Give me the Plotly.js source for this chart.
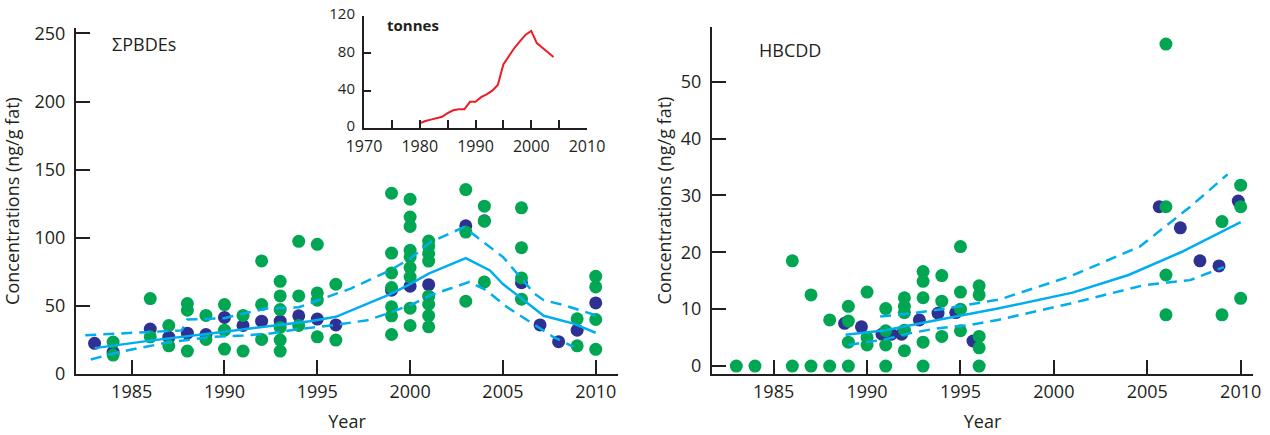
<!DOCTYPE html>
<html>
<head>
<meta charset="utf-8">
<script src="https://cdn.plot.ly/plotly-3.0.1.min.js"></script>
<style>html,body{margin:0;padding:0;background:#fff;}#chart{width:1270px;height:435px;}</style>
</head>
<body>
<div id="chart"></div>
<script>
// ---- ΣPBDEs: annual means (navy) ----
const pbdeMeanYears  = [1983, 1984, 1986, 1987, 1988, 1989, 1990, 1991, 1992, 1993, 1994, 1995, 1996, 1999, 2000, 2001, 2003, 2004, 2006, 2007, 2008, 2009, 2010];
const pbdeMeanValues = [22.5, 16, 33, 27, 30, 29, 41.5, 35.6, 38.8, 38.8, 42.7, 40.3, 36, 61.5, 64.4, 65.6, 108.8, 112.5, 67, 36, 23.7, 32.2, 52.2];
// ---- ΣPBDEs: individual samples (green) ----
const pbdeSampleYears  = [1984,1984, 1986,1986, 1987,1987, 1988,1988,1988, 1989,1989, 1990,1990,1990, 1991,1991, 1992,1992,1992,
  1993,1993,1993,1993,1993,1993, 1994,1994,1994, 1995,1995,1995,1995, 1996,1996,
  1999,1999,1999,1999,1999,1999,1999, 2000,2000,2000,2000,2000,2000,2000,2000,2000,
  2001,2001,2001,2001,2001,2001,2001,2001, 2003,2003,2003, 2004,2004,2004, 2006,2006,2006,2006, 2009,2009, 2010,2010,2010,2010];
const pbdeSampleValues = [23.4,13.9, 55.4,27.3, 35.6,20.7, 51.7,46.8,16.8, 43,25.4, 51,32.2,18.3, 43,16.8, 83,51,25.4,
  68,57.3,47.3,34.2,24.9,16.8, 97.4,57.3,35.6, 95.2,59.5,54.2,27.3, 65.9,24.9,
  132.7,88.8,74.2,63.5,49.3,42.7,29, 128.3,115.2,108.3,90.8,85.9,78.1,71.2,48.3,35.6,
  97.6,93.7,88.3,82.9,57.1,51.2,42.9,34.6, 135.4,104.2,53.4, 123.2,112.2,67.6, 122,92.7,70.5,54.9, 40.5,20.7, 71.7,63.9,40,18.1];
// ---- ΣPBDEs: smoothed trend and confidence band ----
const pbdeTrendYears  = [1983, 1986, 1990, 1994.6, 1996, 1999, 2000, 2001, 2003, 2004.3, 2005, 2007.2, 2008.8, 2010];
const pbdeTrendValues = [19, 24.5, 31, 38.8, 42, 59, 66, 73.7, 85, 76, 66, 42.7, 37, 30.3];
const pbdeUpperYears  = [1982.5, 1985, 1987.7, 1988, 1990, 1991.2, 1992.3, 1994, 1995.3, 1996.8, 1998.9, 2000, 2001.1, 2002.9, 2003.6, 2005, 2006.7, 2007.2, 2008.3, 2010.1];
const pbdeUpperValues = [28.5, 30, 32, 40, 41, 45, 48, 49, 55.4, 62.7, 76, 84.7, 96.8, 107.8, 100.5, 85.9, 59, 54.2, 50.5, 42.7];
const pbdeLowerYears  = [1982.8, 1984, 1985.3, 1986.9, 1988, 1989.4, 1991, 1992.5, 1994, 1995.9, 1997.7, 1998.9, 2000.2, 2001.1, 2003.2, 2004.1, 2005.2, 2006.7, 2007.7, 2008.8];
const pbdeLowerValues = [10.7, 15, 18.8, 23, 25, 27.3, 28.3, 29.8, 33, 35.9, 39.5, 44.9, 51.7, 57.8, 67.6, 61.5, 49.3, 35.9, 27.3, 20];
// ---- inset: PBDE usage (tonnes) ----
const tonnesYears  = [1980,1981,1982,1983,1984,1985,1986,1987,1988,1989,1990,1991,1992,1993,1994,1995,1996,1997,1998,1999,2000,2001,2002,2003,2004];
const tonnesValues = [5,7.5,9,10.5,12,16,19,20,20,28,28,33,36,40,46,68,77,86,93,100,104,91,86,81,76];
// ---- HBCDD: annual means (navy) ----
const hbcddMeanYears  = [1988.8, 1989.7, 1990.8, 1991.3, 1991.85, 1992.8, 1993.8, 1994.75, 1995.67, 2005.64, 2006.77, 2007.82, 2008.84, 2009.87];
const hbcddMeanValues = [7.5, 6.9, 5.6, 5.6, 5.6, 8.1, 9.3, 9.4, 4.4, 28, 24.3, 18.5, 17.6, 29];
// ---- HBCDD: individual samples (green) ----
const hbcddSampleYears  = [1983, 1984, 1986,1986, 1987,1987, 1988,1988, 1989,1989,1989,1989, 1990,1990,1990, 1991,1991,1991,1991,
  1992,1992,1992,1992,1992, 1993,1993,1993,1993,1993, 1994,1994,1994, 1995,1995,1995,1995, 1996,1996,1996,1996,1996,
  2006,2006,2006,2006, 2009,2009, 2010,2010,2010];
const hbcddSampleValues = [0, 0, 18.5,0, 12.5,0, 8.1,0, 10.5,7.9,4.2,0, 13,5.0,3.7, 10.1,6.2,3.7,0,
  12,10.5,9.4,6.3,2.7, 16.6,14.9,12,4.2,0, 15.9,11.4,5.2, 21,13,10,6.2, 14.1,12.5,5.2,3.2,0,
  56.6,28,16,9, 25.4,9, 31.8,28,11.9];
// ---- HBCDD: trend and band ----
const hbcddTrendYears  = [1988.85, 1991, 1993, 1995, 1997, 2001, 2004, 2006.8, 2010];
const hbcddTrendValues = [5.5, 6.3, 7.6, 8.8, 10.1, 12.9, 16, 20, 25.3];
const hbcddUpperYears  = [1990.7, 1992.5, 1994, 1995.5, 1997.1, 2000.9, 2004.6, 2007.3, 2009.3];
const hbcddUpperValues = [8.7, 9.3, 10, 10.8, 11.7, 15.8, 21, 28, 33.7];
const hbcddLowerYears  = [1989, 1991, 1992.2, 1993.7, 1995.5, 1997, 2000.9, 2004.8, 2005.9, 2007.3, 2009.1];
const hbcddLowerValues = [3.7, 4.7, 5.7, 6.6, 7.2, 8.1, 11, 14.2, 14.6, 15.1, 17.4];

const GREEN = '#00a651', NAVY = '#2e3192', CYAN = '#00aeef', RED = '#ed1c24', INK = '#231f20';
const MS = 13;
const dashed = '11px,7px';

function dots(x, y, color, xa, ya) {
  return {x, y, xaxis: xa, yaxis: ya, type: 'scatter', mode: 'markers', cliponaxis: false,
    marker: {color, size: MS, line: {width: 0}}, hoverinfo: 'skip'};
}
function line(x, y, dash, xa, ya, color, w) {
  return {x, y, xaxis: xa, yaxis: ya, type: 'scatter', mode: 'lines', cliponaxis: false,
    line: {color: color || CYAN, width: w || 2.5, dash: dash || 'solid'}, hoverinfo: 'skip'};
}

const traces = [
  dots(pbdeMeanYears, pbdeMeanValues, NAVY, 'x', 'y'),
  dots(pbdeSampleYears, pbdeSampleValues, GREEN, 'x', 'y'),
  line(pbdeTrendYears, pbdeTrendValues, 'solid', 'x', 'y'),
  line(pbdeUpperYears, pbdeUpperValues, dashed, 'x', 'y'),
  line(pbdeLowerYears, pbdeLowerValues, dashed, 'x', 'y'),
  dots(hbcddMeanYears, hbcddMeanValues, NAVY, 'x2', 'y2'),
  dots(hbcddSampleYears, hbcddSampleValues, GREEN, 'x2', 'y2'),
  line(hbcddTrendYears, hbcddTrendValues, 'solid', 'x2', 'y2'),
  line(hbcddUpperYears, hbcddUpperValues, dashed, 'x2', 'y2'),
  line(hbcddLowerYears, hbcddLowerValues, dashed, 'x2', 'y2'),
  line(tonnesYears, tonnesValues, 'solid', 'x3', 'y3', RED, 2)
];

const W = 1270, H = 435;
const FONT = 'Open Sans, sans-serif';
const axisBase = {showline: true, linecolor: INK, linewidth: 2, ticks: 'inside', ticklen: 14, tickwidth: 2,
  tickcolor: INK, showgrid: false, zeroline: false, tickfont: {size: 18, color: INK}, fixedrange: true};
const px = v => v / W, py = v => 1 - v / H;

const layout = {
  width: W, height: H, margin: {l: 0, r: 0, t: 0, b: 0},
  paper_bgcolor: '#fff', plot_bgcolor: 'rgba(0,0,0,0)', showlegend: false,
  font: {family: FONT, color: INK},
  xaxis: Object.assign({}, axisBase, {domain: [px(76), px(618)], range: [1982, 2011.2], tickvals: [1985, 1990, 1995, 2000, 2005, 2010],
    anchor: 'y', title: {text: 'Year', font: {size: 18}, standoff: 14}}),
  yaxis: Object.assign({}, axisBase, {domain: [py(374), py(28)], range: [0, 254], tickvals: [0, 50, 100, 150, 200, 250],
    anchor: 'x', ticklabelstandoff: 5, title: {text: 'Concentrations (ng/g fat)', font: {size: 18}, standoff: 10}}),
  xaxis2: Object.assign({}, axisBase, {domain: [px(712), px(1253)], range: [1981.7, 2010.66], tickvals: [1985, 1990, 1995, 2000, 2005, 2010],
    anchor: 'y2', title: {text: 'Year', font: {size: 18}, standoff: 14}}),
  yaxis2: Object.assign({}, axisBase, {domain: [py(374), py(27)], range: [-1.4, 59.6], tickvals: [0, 10, 20, 30, 40, 50],
    anchor: 'x2', ticklabelstandoff: 5, title: {text: 'Concentrations (ng/g fat)', font: {size: 18}, standoff: 5}}),
  xaxis3: Object.assign({}, axisBase, {domain: [px(364), px(587)], range: [1970, 2010], tickvals: [1970, 1980, 1990, 2000, 2010],
    anchor: 'y3', ticklen: 8, tickfont: {size: 16, color: INK}, ticklabelstandoff: 3,
    minor: {tickvals: [1975, 1985, 1995, 2005], ticks: 'inside', ticklen: 8, tickwidth: 2, tickcolor: INK}}),
  yaxis3: Object.assign({}, axisBase, {domain: [py(128), py(16)], range: [0, 120], tickvals: [0, 40, 80, 120],
    anchor: 'x3', ticklen: 7, tickfont: {size: 15, color: INK}, ticklabelstandoff: 4, ticklabelshift: -2}),
  annotations: [
    {text: 'ΣPBDEs', xref: 'paper', yref: 'paper', x: px(110), y: py(44), xanchor: 'left', yanchor: 'middle',
      showarrow: false, font: {size: 18, color: INK}},
    {text: 'HBCDD', xref: 'paper', yref: 'paper', x: px(757), y: py(50), xanchor: 'left', yanchor: 'middle',
      showarrow: false, font: {size: 18, color: INK}},
    {text: '<b>tonnes</b>', xref: 'paper', yref: 'paper', x: px(385), y: py(25), xanchor: 'left', yanchor: 'middle',
      showarrow: false, font: {size: 15, color: INK}}
  ]
};

Plotly.newPlot('chart', traces, layout, {staticPlot: true, displayModeBar: false});
</script>
</body>
</html>
